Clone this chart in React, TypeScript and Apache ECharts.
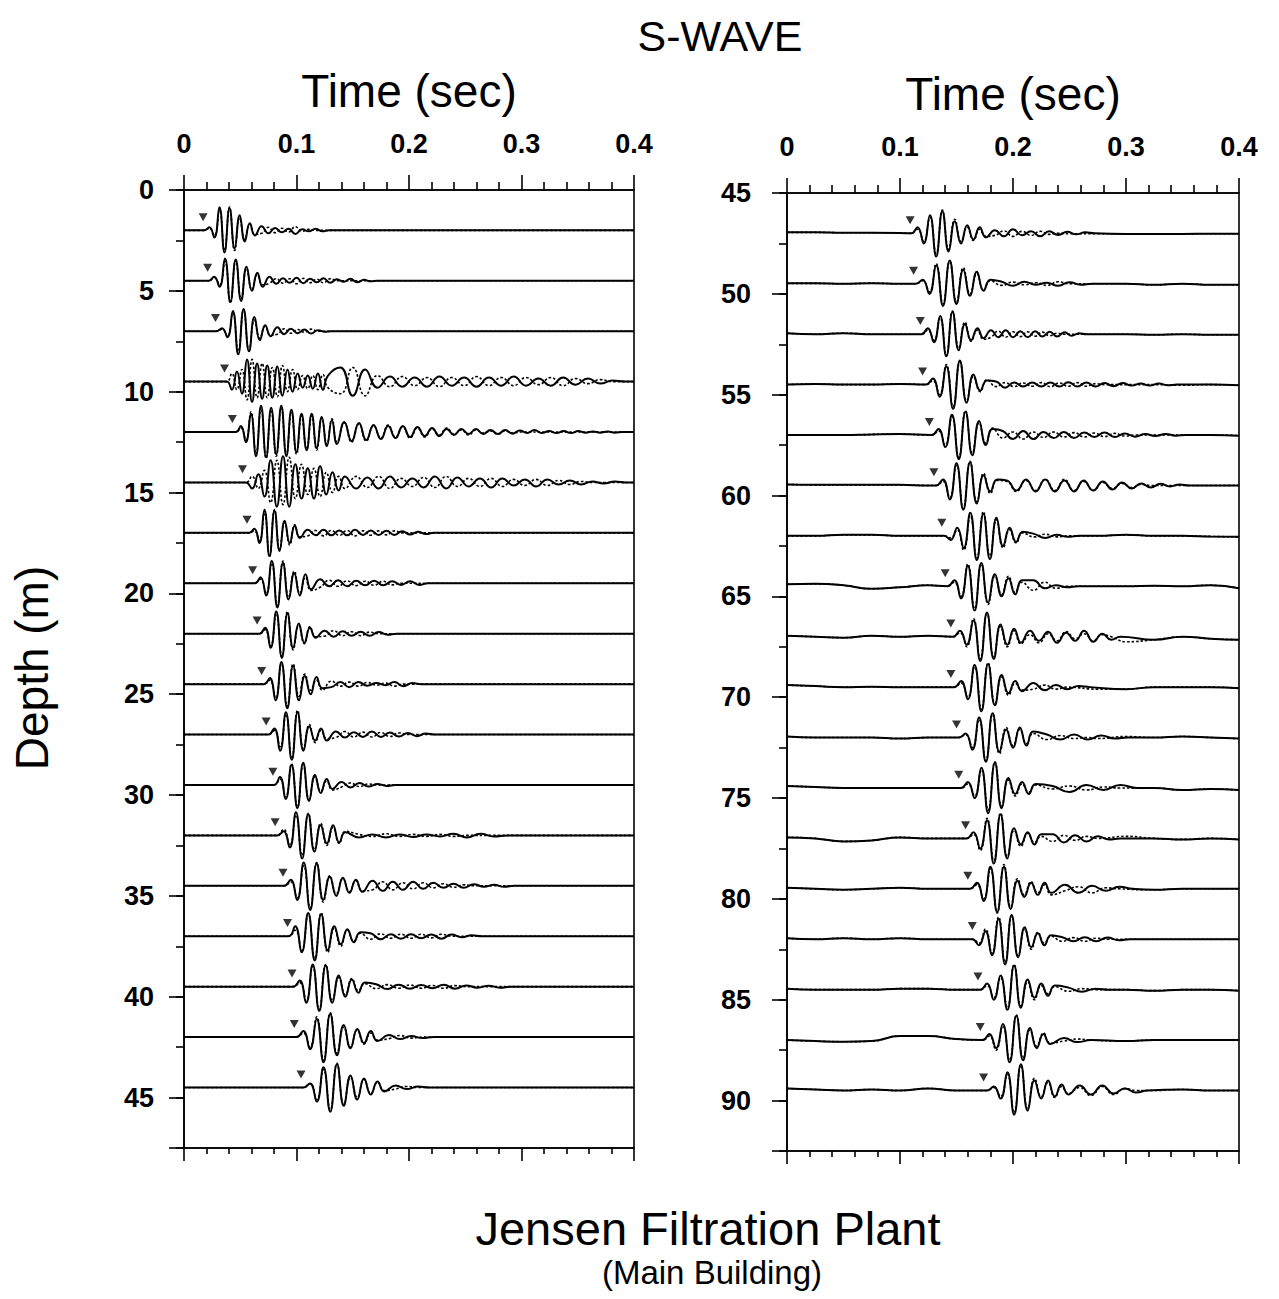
import React, { useEffect, useRef } from "react";
import * as echarts from "echarts";

const FONT = '"Liberation Sans", Arial, Helvetica, sans-serif';

// ---------- axis ranges ----------
const leftDepthRange = [0, 47.5];
const rightDepthRange = [45, 92.5];
const timeRange = [0, 0.4];

// times of the baseline (drift) samples
const driftTimes = [0, 0.025, 0.05, 0.075, 0.1, 0.125, 0.15, 0.175, 0.2, 0.225, 0.25, 0.275, 0.3, 0.325, 0.35, 0.375, 0.4];

// ---------- LEFT PANEL (0 - 45 m) ----------
const leftDepths = [2, 4.5, 7, 9.5, 12, 14.5, 17, 19.5, 22, 24.5, 27, 29.5, 32, 34.5, 37, 39.5, 42, 44.5];
const leftPicks = [0.017, 0.021, 0.028, 0.036, 0.043, 0.052, 0.056, 0.061, 0.065, 0.069, 0.073, 0.079, 0.081, 0.088, 0.092, 0.096, 0.098, 0.104];
const leftOnsets = [0.018, 0.022, 0.029, 0.038, 0.046, 0.055, 0.058, 0.063, 0.067, 0.071, 0.075, 0.080, 0.083, 0.089, 0.093, 0.097, 0.100, 0.106];
const leftHalf = [0.0045, 0.0048, 0.0048, 0.0045, 0.0045, 0.0055, 0.0045, 0.005, 0.005, 0.0052, 0.0052, 0.0052, 0.0055, 0.0058, 0.0058, 0.0058, 0.006, 0.006];
const leftCodaHalf = [0.006, 0.006, 0.006, 0.011, 0.0065, 0.01, 0.007, 0.008, 0.008, 0.008, 0.008, 0.008, 0.012, 0.009, 0.009, 0.01, 0.01, 0.01];
const leftMain = [
  [0.15, -0.35, 1.15, -1.1, 1.1, -0.9, 0.75, -0.55, 0.35, -0.25],
  [0.2, -0.3, 1.1, -1.05, 1.05, -1.0, 0.7, -0.5, 0.4, -0.3],
  [0.15, -0.3, 1.0, -1.15, 1.1, -1.0, 0.7, -0.45, 0.3, -0.25],
  [-0.4, 0.5, -0.6, 1.1, -1.0, 0.9, -0.85, 0.8, -0.8, 0.75, -0.7, 0.6, -0.5, 0.4, -0.3, 0.3, -0.35, 0.4, -0.4, 0.3],
  [0.3, -0.5, 0.9, -1.2, 1.3, -1.25, 1.2, -1.1, 1.3, -1.2, 1.1, -1.0, 0.9, -0.9, 0.9, -0.8, 0.75, -0.7, 0.6, -0.6],
  [-0.3, 0.4, -0.7, 1.1, -1.2, 1.3, -1.2, 0.9, -0.8, 0.7, -0.8, 0.8, -0.6, 0.5, -0.4, 0.3],
  [0.2, -0.5, 1.15, -1.15, 1.1, -0.9, 0.6, -0.5, 0.35, -0.25],
  [0.3, -0.6, 1.1, -1.2, 1.0, -0.8, 0.5, -0.6, 0.45, -0.3],
  [0.3, -0.7, 1.1, -1.2, 1.0, -0.7, 0.5, -0.45, 0.3, -0.2],
  [0.3, -0.8, 1.1, -1.2, 0.9, -0.8, 0.4, -0.5, 0.35, -0.2],
  [0.3, -0.8, 1.1, -1.25, 1.1, -0.8, 0.4, -0.3, 0.3, -0.3],
  [0.4, -0.7, 1.0, -1.15, 1.1, -0.8, 0.5, -0.4, 0.3, -0.2],
  [0.2, -0.6, 1.15, -1.15, 1.05, -0.8, 0.5, -0.4, 0.5, -0.35, 0.15],
  [0.3, -0.7, 1.15, -1.2, 1.1, -0.7, 0.45, -0.5, 0.4, -0.35, 0.3, -0.3],
  [0.5, -0.8, 1.15, -1.2, 1.1, -0.7, 0.5, -0.4, 0.35, -0.3, 0.2],
  [0.3, -0.8, 1.1, -1.2, 1.05, -0.8, 0.55, -0.5, 0.35, -0.3, 0.2],
  [0.3, -0.6, 0.9, -1.25, 1.15, -0.9, 0.6, -0.55, 0.4, -0.3, 0.3, -0.2],
  [0.2, -0.7, 1.0, -1.2, 1.15, -0.9, 0.6, -0.6, 0.45, -0.35, 0.3, -0.2],
];
const leftMainDot = [
  [0.1, -0.25, 1.0, -1.0, 1.15, -1.0, 0.6, -0.45, 0.3, -0.2],
  [0.15, -0.2, 0.95, -1.1, 1.0, -0.9, 0.6, -0.45, 0.3, -0.2],
  [0.1, -0.25, 0.9, -1.0, 1.05, -0.95, 0.55, -0.35, 0.25, -0.2],
  [0.4, -0.4, 0.6, -0.9, 1.1, -0.8, 0.9, -0.8, 0.7, -0.75, 0.8, -0.5, 0.6, -0.4, 0.3, -0.35, 0.3, -0.4, 0.35, -0.3],
  [0.2, -0.4, 1.0, -1.1, 1.2, -1.3, 1.1, -1.2, 1.2, -1.1, 1.0, -1.1, 0.8, -0.85, 0.8, -0.9, 0.7, -0.6, 0.65, -0.5],
  [0.3, -0.3, 0.6, -1.0, 1.1, -1.1, 1.25, -0.8, 0.9, -0.6, 0.7, -0.7, 0.5, -0.5, 0.3, -0.3],
  [0.1, -0.4, 1.0, -1.2, 1.15, -0.8, 0.5, -0.6, 0.4, -0.2],
  [0.2, -0.5, 1.0, -1.1, 1.1, -0.7, 0.6, -0.5, 0.3, -0.35],
  [0.2, -0.6, 1.0, -1.15, 1.1, -0.8, 0.4, -0.5, 0.35, -0.15],
  [0.2, -0.7, 1.0, -1.1, 1.0, -0.6, 0.5, -0.3, 0.2, -0.3],
  [0.2, -0.6, 1.0, -1.2, 1.2, -0.7, 0.5, -0.4, 0.2, -0.2],
  [0.3, -0.6, 1.05, -1.1, 1.0, -0.7, 0.4, -0.3, 0.2, -0.25],
  [0.3, -0.5, 1.0, -1.0, 1.1, -0.7, 0.6, -0.5, 0.4, -0.4, 0.2],
  [0.2, -0.6, 1.0, -1.1, 1.15, -0.8, 0.5, -0.4, 0.35, -0.3, 0.25, -0.25],
  [0.3, -0.7, 1.1, -1.1, 1.15, -0.8, 0.4, -0.5, 0.3, -0.25, 0.15],
  [0.2, -0.7, 1.0, -1.15, 1.1, -0.7, 0.45, -0.4, 0.4, -0.2, 0.15],
  [0.2, -0.5, 1.0, -1.15, 1.2, -0.8, 0.5, -0.5, 0.35, -0.35, 0.2, -0.15],
  [0.2, -0.6, 0.9, -1.1, 1.2, -0.85, 0.5, -0.5, 0.4, -0.3, 0.25, -0.15],
];
const leftCoda = [
  [0.2, -0.15, 0.12, -0.1, 0.08, -0.18, 0.05, -0.05, 0.08, -0.05],
  [0.2, -0.15, 0.12, -0.1, 0.15, -0.12, 0.1, -0.08, 0.12, -0.1, 0.08, -0.05, 0.1, -0.08, 0.05, -0.03],
  [0.2, -0.15, 0.12, -0.1, 0.08, -0.12, 0.05, -0.03],
  [0.7, -0.7, 0.6, -0.3, 0.25, -0.25, 0.2, -0.25, 0.25, -0.2, 0.2, -0.25, 0.2, -0.2, 0.25, -0.2, 0.15, -0.2, 0.2, -0.15, 0.15, -0.1, 0.05],
  [0.5, -0.45, 0.45, -0.4, 0.35, -0.35, 0.3, -0.3, 0.3, -0.25, 0.25, -0.2, 0.2, -0.2, 0.15, -0.15, 0.15, -0.1, 0.15, -0.1, 0.1, -0.1, 0.1, -0.08, 0.08, -0.05, 0.1, -0.05, 0.05, -0.05, 0.05, -0.05, 0.05, -0.03, 0.03, -0.03, 0.03, -0.03],
  [-0.3, 0.25, -0.3, 0.3, -0.25, 0.2, -0.25, 0.3, -0.3, 0.25, -0.2, 0.2, -0.25, 0.2, -0.15, 0.15, -0.2, 0.15, -0.1, 0.1, -0.1, 0.05, -0.05, 0.05],
  [0.15, -0.12, 0.15, -0.12, 0.12, -0.12, 0.15, -0.1, 0.12, -0.1, 0.1, -0.1, 0.08, -0.08, 0.06, -0.06],
  [0.2, -0.15, 0.15, -0.15, 0.12, -0.1, 0.12, -0.1, 0.1, -0.08, 0.1, -0.08],
  [0.15, -0.15, 0.12, -0.1, 0.1, -0.1, 0.08, -0.05],
  [-0.15, 0.1, -0.15, 0.1, -0.08, 0.05, -0.05, 0.1, -0.1, 0.05],
  [0.15, -0.15, 0.12, -0.12, 0.15, -0.12, 0.1, -0.1, 0.08, -0.08, 0.05],
  [0.15, -0.12, 0.1, -0.08, 0.05, -0.05],
  [-0.1, 0.05, -0.1, 0.05, -0.08, 0.05, -0.05, 0.08, -0.1, 0.08, -0.05],
  [0.25, -0.25, 0.2, -0.2, 0.2, -0.15, 0.15, -0.1, 0.1, -0.1, 0.08, -0.05, 0.05, -0.05],
  [0.15, -0.15, 0.1, -0.12, 0.1, -0.1, 0.08, -0.12, 0.08, -0.05, 0.05],
  [0.12, -0.12, 0.1, -0.1, 0.08, -0.08, 0.1, -0.1, 0.06, -0.05, 0.05, -0.05],
  [0.1, -0.1, 0.05, -0.05],
  [0.1, -0.08, 0.05],
];
const leftCodaDot = [
  [-0.15, 0.15, -0.12, 0.1, -0.08, 0.18, -0.05, 0.05],
  [-0.12, 0.1, -0.12, 0.1, -0.15, 0.12, -0.1, 0.08, -0.1, 0.1],
  [-0.15, 0.12, -0.1, 0.08, -0.05, 0.1],
  [-0.6, 0.7, -0.7, 0.3, -0.25, 0.25, -0.2, 0.2, -0.25, 0.2, -0.2, 0.25, -0.2, 0.2, -0.2, 0.2, -0.15, 0.2, -0.2, 0.15, -0.1, 0.1],
  [0.45, -0.5, 0.4, -0.45, 0.3, -0.3, 0.35, -0.25, 0.25, -0.3, 0.2, -0.25, 0.15, -0.15, 0.2, -0.1, 0.1, -0.15, 0.1, -0.05, 0.05, -0.1, 0.05, -0.05],
  [0.3, -0.25, 0.3, -0.3, 0.2, -0.2, 0.25, -0.25, 0.3, -0.2, 0.2, -0.2, 0.2, -0.2, 0.15, -0.15, 0.15, -0.15, 0.1, -0.1, 0.05],
  [-0.15, 0.12, -0.15, 0.12, -0.12, 0.12, -0.15, 0.1, -0.12, 0.1, -0.1, 0.1],
  [-0.2, 0.15, -0.15, 0.12, -0.12, 0.1, -0.1, 0.1, -0.08],
  [-0.12, 0.15, -0.1, 0.1, -0.1, 0.08],
  [0.15, -0.1, 0.1, -0.1, 0.08, -0.05, 0.05, -0.1],
  [-0.15, 0.15, -0.12, 0.12, -0.12, 0.1, -0.1, 0.08],
  [-0.1, 0.1, -0.08, 0.05],
  [0.05, -0.05, 0.08, -0.05, 0.05, -0.05, 0.05, -0.05],
  [-0.2, 0.2, -0.2, 0.15, -0.15, 0.15, -0.1, 0.1, -0.08, 0.05],
  [-0.15, 0.12, -0.1, 0.1, -0.1, 0.1, -0.08, 0.1],
  [-0.1, 0.1, -0.08, 0.08, -0.08, 0.06, -0.08, 0.05],
  [-0.08, 0.08, -0.05],
  [-0.08, 0.05],
];

// ---------- RIGHT PANEL (45 - 90 m) ----------
const rightDepths = [47, 49.5, 52, 54.5, 57, 59.5, 62, 64.5, 67, 69.5, 72, 74.5, 77, 79.5, 82, 84.5, 87, 89.5];
const rightPicks = [0.109, 0.112, 0.118, 0.120, 0.126, 0.130, 0.137, 0.140, 0.145, 0.145, 0.150, 0.152, 0.158, 0.160, 0.164, 0.169, 0.171, 0.174];
const rightOnsets = [0.110, 0.114, 0.119, 0.123, 0.128, 0.132, 0.139, 0.142, 0.147, 0.148, 0.152, 0.154, 0.159, 0.162, 0.164, 0.171, 0.173, 0.177];
const rightHalf = [0.0055, 0.006, 0.0055, 0.006, 0.006, 0.006, 0.0058, 0.006, 0.006, 0.006, 0.006, 0.006, 0.006, 0.006, 0.0058, 0.006, 0.006, 0.006];
const rightCodaHalf = [0.008, 0.01, 0.0065, 0.008, 0.009, 0.0085, 0.01, 0.01, 0.008, 0.01, 0.012, 0.015, 0.01, 0.012, 0.01, 0.012, 0.012, 0.01];
const rightMain = [
  [0.3, -0.5, 0.9, -1.15, 1.1, -0.9, 0.6, -0.5, 0.4, -0.3, 0.3, -0.2],
  [0.2, -0.5, 0.9, -1.1, 1.15, -1.0, 0.7, -0.6, 0.6, -0.35, 0.2],
  [0.3, -0.4, 0.9, -1.1, 1.1, -0.8, 0.5, -0.3, 0.3, -0.2],
  [0.3, -0.6, 0.9, -1.2, 1.2, -0.9, 0.5, -0.3, 0.2],
  [0.3, -0.6, 1.0, -1.2, 1.15, -1.0, 0.7, -0.5, 0.3],
  [0.3, -0.7, 1.1, -1.2, 1.15, -0.9, 0.5, -0.3, 0.3],
  [-0.2, 0.4, -0.6, 1.15, -1.2, 1.1, -1.15, 0.9, -0.5, 0.4, -0.3, 0.2],
  [0.3, -0.6, 1.0, -1.2, 1.15, -0.8, 0.6, -0.5, 0.4, -0.4, 0.3],
  [0.3, -0.4, 0.8, -1.2, 1.2, -1.1, 0.6, -0.4, 0.4, -0.3],
  [0.3, -0.6, 1.1, -1.2, 1.15, -0.9, 0.6, -0.3, 0.3, -0.2],
  [0.2, -0.6, 1.0, -1.2, 1.2, -0.7, 0.4, -0.5, 0.5, -0.4, 0.3],
  [0.3, -0.5, 1.0, -1.25, 1.25, -1.0, 0.5, -0.3, 0.3, -0.3, 0.2],
  [0.3, -0.5, 0.9, -1.25, 1.2, -1.0, 0.5, -0.3, 0.3, -0.3, 0.2],
  [0.3, -0.6, 1.1, -1.15, 1.1, -1.0, 0.4, -0.4, 0.3, -0.3, 0.3, -0.2],
  [-0.3, 0.4, -0.8, 1.0, -1.25, 1.2, -0.9, 0.6, -0.4, 0.3, -0.3, 0.2],
  [0.3, -0.5, 0.7, -1.0, 1.2, -0.9, 0.5, -0.4, 0.3, -0.3, 0.2],
  [0.3, -0.4, 0.8, -1.1, 1.2, -1.0, 0.6, -0.4, 0.3, -0.2],
  [0.2, -0.4, 0.9, -1.2, 1.3, -1.0, 0.5, -0.4, 0.5, -0.3, 0.3, -0.2],
];
const rightMainDot = [
  [0.2, -0.4, 0.8, -1.0, 1.15, -0.8, 0.7, -0.4, 0.3, -0.35, 0.2, -0.15],
  [0.15, -0.4, 1.0, -1.0, 1.1, -0.9, 0.8, -0.5, 0.5, -0.3, 0.15],
  [0.2, -0.3, 0.8, -1.05, 1.15, -0.7, 0.6, -0.35, 0.2, -0.25],
  [0.2, -0.5, 1.0, -1.1, 1.1, -0.8, 0.4, -0.35, 0.25],
  [0.2, -0.5, 0.9, -1.1, 1.2, -0.9, 0.6, -0.4, 0.35],
  [0.2, -0.6, 1.0, -1.15, 1.2, -0.8, 0.6, -0.4, 0.25],
  [-0.1, 0.3, -0.7, 1.0, -1.1, 1.2, -1.0, 0.8, -0.6, 0.3, -0.35, 0.15],
  [0.2, -0.5, 1.1, -1.1, 1.1, -0.9, 0.5, -0.4, 0.5, -0.3, 0.2],
  [0.2, -0.5, 0.9, -1.1, 1.15, -1.0, 0.5, -0.5, 0.3, -0.35],
  [0.2, -0.5, 1.0, -1.1, 1.2, -0.8, 0.5, -0.4, 0.2, -0.15],
  [0.15, -0.5, 0.9, -1.15, 1.15, -0.8, 0.5, -0.4, 0.4, -0.3, 0.2],
  [0.2, -0.4, 0.9, -1.1, 1.3, -0.9, 0.4, -0.4, 0.2, -0.2, 0.15],
  [0.2, -0.6, 1.0, -1.1, 1.25, -0.9, 0.4, -0.4, 0.25, -0.2, 0.1],
  [0.2, -0.5, 1.0, -1.2, 1.2, -0.9, 0.5, -0.3, 0.35, -0.2, 0.2, -0.3],
  [-0.2, 0.5, -0.7, 1.1, -1.15, 1.15, -0.8, 0.5, -0.5, 0.35, -0.2, 0.15],
  [0.2, -0.4, 0.6, -0.9, 1.25, -0.8, 0.4, -0.5, 0.2, -0.2, 0.15],
  [0.2, -0.5, 0.7, -1.0, 1.25, -0.9, 0.5, -0.3, 0.35, -0.15],
  [0.15, -0.3, 0.8, -1.1, 1.25, -0.9, 0.6, -0.3, 0.4, -0.35, 0.2, -0.15],
];
const rightCoda = [
  [0.15, -0.15, 0.2, -0.1, 0.1, -0.15, 0.1, -0.08, 0.08, -0.05, 0.05],
  [0.1, -0.1, 0.1, -0.05, 0.05, -0.1, 0.08, -0.05],
  [0.2, -0.15, 0.2, -0.15, 0.15, -0.15, 0.15, -0.12, 0.12, -0.12, 0.1, -0.08, 0.05],
  [0.15, -0.15, 0.1, -0.1, 0.1, -0.1, 0.1, -0.1, 0.12, -0.1, 0.1, -0.1, 0.08, -0.08, 0.08, -0.05, 0.05, -0.05, 0.05, -0.03],
  [0.2, -0.2, 0.2, -0.2, 0.15, -0.15, 0.15, -0.15, 0.12, -0.1, 0.12, -0.1, 0.08, -0.08, 0.05, -0.05, 0.05, -0.03],
  [0.25, -0.25, 0.3, -0.3, 0.3, -0.3, 0.25, -0.3, 0.25, -0.25, 0.2, -0.2, 0.15, -0.15, 0.1, -0.1, 0.08, -0.05, 0.05],
  [0.1, -0.1, 0.05, -0.05],
  [0.3, -0.1, 0.05, -0.05],
  [0.3, -0.2, 0.25, -0.3, 0.2, -0.2, 0.3, -0.25, 0.15, -0.15],
  [0.2, -0.15, 0.1, -0.1, 0.05],
  [0.15, -0.1, 0.15, -0.1, 0.1, -0.05],
  [0.1, -0.2, 0.15, -0.1, 0.15],
  [0.2, -0.2, 0.15, -0.15, 0.1, -0.05],
  [0.2, -0.2, 0.15, -0.1, 0.1],
  [0.1, -0.1, 0.1, -0.1, 0.08, -0.05],
  [0.1, -0.1, 0.05],
  [0.1, -0.1],
  [0.25, -0.2, 0.25, -0.15, 0.1, -0.1],
];
const rightCodaDot = [
  [-0.1, 0.12, -0.15, 0.1, -0.1, 0.1, -0.05],
  [-0.08, 0.08, -0.05, 0.05, -0.08, 0.1],
  [-0.15, 0.15, -0.15, 0.12, -0.12, 0.12, -0.1, 0.1, -0.08, 0.05],
  [-0.1, 0.1, -0.1, 0.08, -0.08, 0.1, -0.1, 0.08, -0.08, 0.1, -0.08, 0.05],
  [-0.15, 0.15, -0.2, 0.15, -0.12, 0.15, -0.1, 0.12, -0.1, 0.1, -0.08, 0.08, -0.05],
  [0.2, -0.3, 0.25, -0.25, 0.3, -0.25, 0.3, -0.25, 0.2, -0.25, 0.15, -0.15, 0.1, -0.1, 0.05],
  [-0.05, 0.08, -0.05],
  [-0.2, 0.2, -0.1],
  [0.1, -0.3, 0.15, -0.2, 0.25, -0.1, 0.15, -0.2, 0.1],
  [-0.1, 0.1, -0.1],
  [-0.1, 0.1, -0.05],
  [-0.05, 0.1, -0.1, 0.05],
  [-0.15, 0.15, -0.1, 0.1],
  [-0.1, 0.1, -0.2, 0.05],
  [-0.1, 0.08, -0.1, 0.05],
  [-0.08, 0.05],
  [-0.05, 0.05],
  [0.15, -0.25, 0.2, -0.2, 0.1],
];
// slow baseline wander of each deep trace, sampled at driftTimes (m, upward positive)
const rightDrift = [
  [0.05, 0.05, 0.03, 0.03, 0.02, 0, 0, 0, 0, 0, -0.02, -0.02, -0.03, -0.03, -0.03, -0.02, -0.02],
  [0.02, 0.02, 0, 0.03, 0, 0, 0, 0, 0, 0, -0.05, 0, 0, -0.05, 0, -0.05, -0.05],
  [0.05, 0, 0.05, 0, 0, 0, 0, 0, 0, 0, 0, 0, 0, -0.03, 0, -0.03, -0.03],
  [0, 0.03, 0, 0, 0.03, 0, 0, 0, 0, 0, 0, 0, 0, 0, -0.03, 0, -0.03],
  [0, 0, 0, 0.03, 0.05, 0, 0, 0, 0, 0, 0, 0, 0, 0, 0, 0, -0.03],
  [0.05, 0.03, 0.03, 0.03, 0.03, 0, 0, 0, 0, 0, 0, 0, 0, 0, 0, 0, 0],
  [0, 0, 0.05, 0.05, 0, 0, 0, 0, 0, 0, 0, 0, 0.05, 0, 0, -0.03, -0.05],
  [0.1, 0.12, 0.05, -0.12, -0.05, 0.05, 0, 0, 0, 0, 0, 0, 0, 0.03, 0, 0.05, -0.1],
  [0.05, 0, -0.05, 0.05, 0, 0.05, 0, 0, 0, 0, 0, -0.1, -0.25, -0.15, 0, -0.1, -0.15],
  [0.1, 0.05, 0, 0.02, 0, 0, 0, 0, 0, 0, 0, -0.1, -0.1, 0, 0, 0, -0.05],
  [0.05, 0, 0, 0, -0.05, 0, 0, 0, 0, 0, 0, -0.05, 0.05, 0, 0.05, 0, -0.05],
  [0.1, 0.05, 0, 0, 0, 0, 0, 0, 0, 0, 0, 0.15, 0.1, 0, -0.1, -0.05, -0.1],
  [0.05, 0, -0.15, -0.1, 0.05, 0, 0, 0, 0, 0, 0, 0.05, 0.1, 0, -0.05, 0, -0.05],
  [0.05, 0, -0.05, 0, 0.05, 0, 0, 0, 0, 0, 0, 0.05, 0.05, -0.05, 0, 0, 0],
  [0.05, 0, 0.05, 0, 0.05, 0, 0, 0, 0, 0, 0, 0, 0, 0, 0, 0, 0],
  [0.05, 0, 0, 0, 0.05, 0.05, 0, 0, 0, 0, 0, 0, 0, -0.05, 0, 0, -0.05],
  [0, -0.05, -0.08, -0.05, 0.2, 0.2, 0.05, 0, 0, 0, 0, 0, -0.05, 0, 0, 0, 0],
  [0.1, 0.05, 0, 0.05, 0, 0.1, 0, 0, 0, 0, 0, 0, -0.05, 0, 0.05, 0, 0],
];

// ---------- trace assembly ----------
function buildTrace(
  depth: number, t0: number, h: number, main: number[], hc: number, coda: number[], drift?: number[]
): number[][] {
  const pts: number[][] = [];
  const t1 = t0 + main.length * h;
  const tEnd = t1 + (coda.length + 1) * hc;
  driftTimes.forEach((t, i) => {
    if (t < t0 - 0.006) pts.push([t, depth - (drift ? drift[i] : 0)]);
  });
  pts.push([t0, depth]);
  main.forEach((a, i) => pts.push([t0 + (i + 1) * h, depth - a]));
  coda.forEach((a, i) => pts.push([t1 + (i + 1) * hc, depth - a]));
  if (tEnd < 0.4) pts.push([tEnd, depth]);
  driftTimes.forEach((t, i) => {
    if (t > tEnd + 0.008) pts.push([t, depth - (drift ? drift[i] : 0)]);
  });
  const last = pts[pts.length - 1];
  if (last[0] < 0.4) pts.push([0.4, depth]);
  return pts;
}

function panelSeries(
  xIdx: number, yIdx: number, depths: number[], picks: number[], onsets: number[], half: number[],
  codaHalf: number[], main: number[][], mainDot: number[][], coda: number[][], codaDot: number[][], drift?: number[][]
) {
  const out: any[] = [];
  depths.forEach((d, k) => {
    const dr = drift ? drift[k] : undefined;
    out.push({
      type: "line", xAxisIndex: xIdx, yAxisIndex: yIdx, silent: true, z: 2,
      data: buildTrace(d, onsets[k], half[k], mainDot[k], codaHalf[k], codaDot[k], dr),
      smooth: 0.5, symbol: "none",
      lineStyle: { color: "#000", width: 1.6, type: [2.5, 2] },
    });
    out.push({
      type: "line", xAxisIndex: xIdx, yAxisIndex: yIdx, silent: true, z: 3,
      data: buildTrace(d, onsets[k], half[k], main[k], codaHalf[k], coda[k], dr),
      smooth: 0.5, symbol: "none",
      lineStyle: { color: "#000", width: 2 },
    });
  });
  out.push({
    type: "scatter", xAxisIndex: xIdx, yAxisIndex: yIdx, silent: true, z: 4,
    symbol: "triangle", symbolRotate: 180, symbolSize: [9, 8],
    itemStyle: { color: "#000" },
    data: picks.map((p, k) => [p, depths[k] - 0.65]),
  });
  return out;
}

const axisLineStyle = { color: "#000", width: 1.6 };

function topAxis(gridIndex: number) {
  return {
    type: "value", gridIndex, position: "top", min: timeRange[0], max: timeRange[1], interval: 0.1,
    name: "Time (sec)", nameLocation: "middle", nameGap: 76,
    nameTextStyle: { fontFamily: FONT, fontSize: 46, color: "#000" },
    axisLine: { show: true, onZero: false, lineStyle: axisLineStyle },
    axisTick: { show: true, inside: false, length: 15, lineStyle: axisLineStyle },
    minorTick: { show: true, splitNumber: 5, length: 8, lineStyle: axisLineStyle },
    splitLine: { show: false },
    axisLabel: {
      show: true, margin: 33, fontFamily: FONT, fontSize: 27, fontWeight: "bold", color: "#000",
      formatter: (v: number) => String(+v.toFixed(1)),
    },
  };
}
function bottomAxis(gridIndex: number) {
  return {
    type: "value", gridIndex, position: "bottom", min: timeRange[0], max: timeRange[1], interval: 0.1,
    axisLine: { show: true, onZero: false, lineStyle: axisLineStyle },
    axisTick: { show: true, inside: false, length: 13, lineStyle: axisLineStyle },
    minorTick: { show: true, splitNumber: 5, length: 6, lineStyle: axisLineStyle },
    splitLine: { show: false },
    axisLabel: { show: false },
  };
}
function depthAxis(gridIndex: number, range: number[], labelMargin: number) {
  return {
    type: "value", gridIndex, position: "left", inverse: true, min: range[0], max: range[1], interval: 5,
    axisLine: { show: true, onZero: false, lineStyle: axisLineStyle },
    axisTick: { show: true, inside: false, length: 15, lineStyle: axisLineStyle },
    splitLine: { show: false },
    axisLabel: {
      show: true, margin: labelMargin, fontFamily: FONT, fontSize: 27, fontWeight: "bold", color: "#000",
      formatter: (v: number) => (Math.abs(v % 5) < 1e-6 ? String(v) : ""),
    },
  };
}
function depthMinorAxis(gridIndex: number, range: number[]) {
  return {
    type: "value", gridIndex, position: "left", offset: 0, inverse: true, min: range[0], max: range[1], interval: 2.5,
    axisLine: { show: false, onZero: false },
    axisTick: { show: true, inside: false, length: 8, lineStyle: axisLineStyle },
    splitLine: { show: false },
    axisLabel: { show: false },
  };
}

export default function App() {
  const ref = useRef<HTMLDivElement>(null);
  useEffect(() => {
    if (!ref.current) return;
    const chart = echarts.init(ref.current, undefined, { renderer: "svg" });
    const series = [
      ...panelSeries(0, 0, leftDepths, leftPicks, leftOnsets, leftHalf, leftCodaHalf, leftMain, leftMainDot, leftCoda, leftCodaDot),
      ...panelSeries(2, 2, rightDepths, rightPicks, rightOnsets, rightHalf, rightCodaHalf, rightMain, rightMainDot, rightCoda, rightCodaDot, rightDrift),
    ];
    chart.setOption({
      animation: false,
      backgroundColor: "#fff",
      grid: [
        { left: 184, top: 190, width: 450, height: 958, show: true, borderColor: "#000", borderWidth: 1.6, containLabel: false },
        { left: 787, top: 193, width: 452, height: 958, show: true, borderColor: "#000", borderWidth: 1.6, containLabel: false },
      ],
      xAxis: [topAxis(0), bottomAxis(0), topAxis(1), bottomAxis(1)],
      yAxis: [
        depthAxis(0, leftDepthRange, 30),
        depthMinorAxis(0, leftDepthRange),
        depthAxis(1, rightDepthRange, 36),
        depthMinorAxis(1, rightDepthRange),
      ],
      graphic: [
        {
          type: "text", x: 720, y: 36,
          style: { text: "S-WAVE", fontFamily: FONT, fontSize: 43, fill: "#000", align: "center", verticalAlign: "middle" },
        },
        {
          type: "text", x: 32, y: 668, rotation: Math.PI / 2,
          style: { text: "Depth (m)", fontFamily: FONT, fontSize: 46, fill: "#000", align: "center", verticalAlign: "middle" },
        },
        {
          type: "text", x: 708, y: 1228,
          style: { text: "Jensen Filtration Plant", fontFamily: FONT, fontSize: 47, fill: "#000", align: "center", verticalAlign: "middle" },
        },
        {
          type: "text", x: 712, y: 1272,
          style: { text: "(Main Building)", fontFamily: FONT, fontSize: 33, fill: "#000", align: "center", verticalAlign: "middle" },
        },
      ],
      series,
    });
    return () => chart.dispose();
  }, []);
  return <div ref={ref} style={{ width: 1279, height: 1299, margin: -8 }} />;
}
